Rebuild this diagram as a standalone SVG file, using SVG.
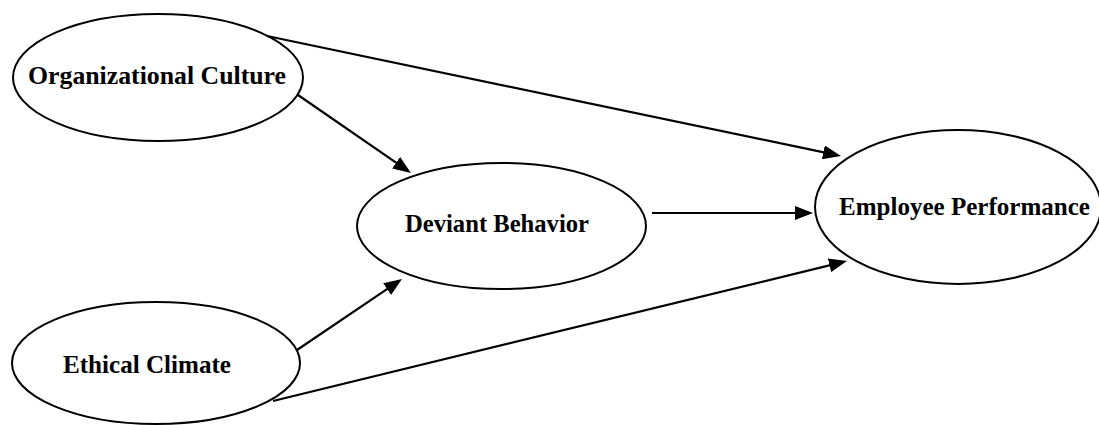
<svg xmlns="http://www.w3.org/2000/svg" width="1099" height="425" viewBox="0 0 1099 425">
  <style>
    .node { fill: #ffffff; stroke: #000000; stroke-width: 2; }
    .label { font-family: "Liberation Serif", "Times New Roman", serif; font-weight: bold; font-size: 25.5px; fill: #000000; text-anchor: middle; }
    .edge { stroke: #000000; stroke-width: 2.2; fill: none; marker-end: url(#arrow); }
  </style>
  <defs>
    <marker id="arrow" markerUnits="userSpaceOnUse" markerWidth="18" markerHeight="14" refX="3" refY="7" orient="auto">
      <path d="M0,0 L18,7 L0,14 z" fill="#000000"/>
    </marker>
  </defs>
  <rect width="1099" height="425" fill="#ffffff"/>
  <g id="node-organizational-culture">
    <ellipse class="node" cx="158" cy="77.5" rx="145" ry="63.5"/>
    <text class="label" x="157" y="84" textLength="258" lengthAdjust="spacingAndGlyphs">Organizational Culture</text>
  </g>
  <g id="node-deviant-behavior">
    <ellipse class="node" cx="501.5" cy="226" rx="144.5" ry="63"/>
    <text class="label" x="497" y="232" textLength="184" lengthAdjust="spacingAndGlyphs">Deviant Behavior</text>
  </g>
  <g id="node-employee-performance">
    <ellipse class="node" cx="958" cy="207" rx="143" ry="77"/>
    <text class="label" x="964.5" y="215" textLength="251" lengthAdjust="spacingAndGlyphs">Employee Performance</text>
  </g>
  <g id="node-ethical-climate">
    <ellipse class="node" cx="156" cy="363" rx="144" ry="61"/>
    <text class="label" x="147" y="373" textLength="168" lengthAdjust="spacingAndGlyphs">Ethical Climate</text>
  </g>
  <g id="connectors">
    <line class="edge" x1="267" y1="36" x2="826.3" y2="152.9"/>
    <line class="edge" x1="298" y1="95" x2="398.6" y2="164.4"/>
    <line class="edge" x1="652" y1="213" x2="798" y2="213"/>
    <line class="edge" x1="297" y1="350" x2="389.6" y2="287.4"/>
    <line class="edge" x1="273" y1="401" x2="832.4" y2="264.6"/>
  </g>
</svg>
